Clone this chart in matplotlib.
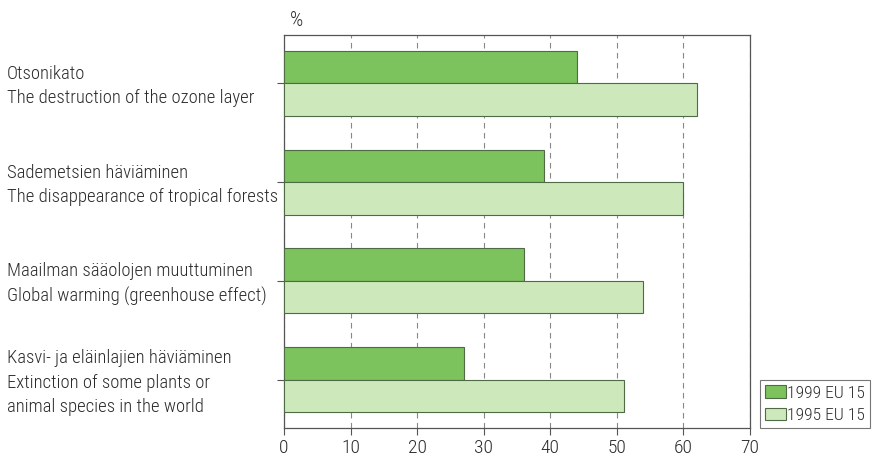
import matplotlib
matplotlib.use("Agg")
import matplotlib.pyplot as plt
import matplotlib.transforms as mtransforms
import numpy as np

categories = [
    "Otsonikato\nThe destruction of the ozone layer",
    "Sademetsien häviäminen\nThe disappearance of tropical forests",
    "Maailman sääolojen muuttuminen\nGlobal warming (greenhouse effect)",
    "Kasvi- ja eläinlajien häviäminen\nExtinction of some plants or\nanimal species in the world",
]
values_1999 = [44, 39, 36, 27]
values_1995 = [62, 60, 54, 51]
series_labels = ["1999 EU 15", "1995 EU 15"]
xticks = [0, 10, 20, 30, 40, 50, 60, 70]

font = ["Roboto Condensed", "DejaVu Sans"]
fw = 300
fs = 13.4
text_color = "#2b2b2b"
dark_green = "#7cc35e"
light_green = "#cde8ba"
edge = "#4f6b45"

fig = plt.figure(figsize=(8.76, 4.59), dpi=100)
ax = fig.add_axes([284/876, 1-428/459, (750-284)/876, (428-35)/459])

y = np.arange(len(categories))
h = 0.33
ax.barh(y - h/2, values_1999, height=h, color=dark_green, edgecolor=edge, linewidth=0.8, label=series_labels[0], zorder=3)
ax.barh(y + h/2, values_1995, height=h, color=light_green, edgecolor=edge, linewidth=0.8, label=series_labels[1], zorder=3)

ax.set_xlim(0, 70)
ax.set_ylim(3.49, -0.49)
ax.set_xticks(xticks)
ax.set_xticklabels([str(t) for t in xticks], family=font, fontsize=14, weight=fw, color=text_color)
ax.set_yticks(y)
ax.set_yticklabels([])
ax.tick_params(axis="both", direction="out", length=5, width=0.8, color="#555555")
ax.tick_params(axis="x", pad=3)

ax.xaxis.grid(True, linestyle=(0, (5, 4)), color="#888888", linewidth=0.8, zorder=0)
ax.set_axisbelow(True)
for s in ax.spines.values():
    s.set_color("#555555")
    s.set_linewidth(0.9)

trans = mtransforms.blended_transform_factory(fig.transFigure, ax.transData)
for yi, cat in zip(y, categories):
    ax.text(7/876, yi + 0.03, cat, transform=trans, ha="left", va="center",
            family=font, fontsize=fs, weight=fw, color=text_color, linespacing=1.45)

fig.text(290/876, 1-21/459, "%", family=font, fontsize=15, weight=fw, color=text_color, ha="left", va="center")

leg = ax.legend(loc="lower left", bbox_to_anchor=(760/876, 1-428/459), bbox_transform=fig.transFigure,
                prop={"family": font, "size": 12.6, "weight": fw}, frameon=True, fancybox=False,
                handlelength=1.2, handleheight=0.7, handletextpad=0.05, borderpad=0.3,
                labelspacing=0.4, borderaxespad=0)
leg.get_frame().set_edgecolor("#555555")
leg.get_frame().set_linewidth(0.8)
for t in leg.get_texts():
    t.set_color(text_color)

fig.savefig("out.png", dpi=100)
